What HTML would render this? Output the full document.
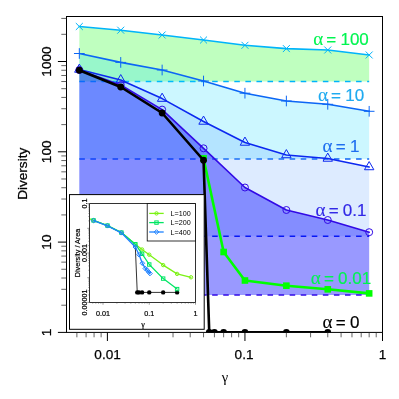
<!DOCTYPE html>
<html><head><meta charset="utf-8"><title>Diversity</title>
<style>html,body{margin:0;padding:0;background:#fff;}body{width:399px;height:399px;overflow:hidden;font-family:"Liberation Sans",sans-serif;}.ls{font-family:"Liberation Sans",sans-serif;}.lf{font-family:"Liberation Serif",serif;}</style></head>
<body>
<div id="fig" style="width:399px;height:399px;will-change:transform;transform:translateZ(0);">
<svg width="399" height="399" viewBox="0 0 399 399" style="display:block">
<rect width="399" height="399" fill="#fff"/>
<defs><clipPath id="cp"><rect x="66.5" y="16.5" width="316.0" height="315.9"/></clipPath></defs>
<g clip-path="url(#cp)">
<polygon points="79.32,26.50 120.73,30.20 162.14,35.00 203.54,40.00 244.95,45.30 286.36,48.60 327.76,50.00 369.17,55.00 369.17,81.50 79.32,81.50" fill="#00ff00" fill-opacity="0.25"/>
<line x1="79.32" y1="81.5" x2="369.17" y2="81.5" stroke="#00b4fa" stroke-width="1.5" stroke-dasharray="5.55 5.52"/>
<polygon points="79.32,53.50 120.73,62.40 162.14,70.00 203.54,81.00 244.95,93.20 286.36,101.00 327.76,104.30 369.17,111.30 369.17,159.00 79.32,159.00" fill="#00d7ff" fill-opacity="0.2"/>
<line x1="79.32" y1="159.0" x2="369.17" y2="159.0" stroke="#0c66f5" stroke-width="1.5" stroke-dasharray="5.55 5.52"/>
<polygon points="79.32,69.50 120.73,80.00 162.14,98.60 203.54,121.50 244.95,142.50 286.36,155.00 327.76,158.50 369.17,167.00 369.17,236.20 79.32,236.20" fill="#559bff" fill-opacity="0.2"/>
<line x1="79.32" y1="236.2" x2="369.17" y2="236.2" stroke="#0c28f0" stroke-width="1.5" stroke-dasharray="5.55 5.52"/>
<polygon points="79.32,70.00 120.73,85.00 162.14,109.60 203.54,148.30 244.95,187.50 286.36,210.00 327.76,220.00 369.17,232.20 369.17,294.90 79.32,294.90" fill="#0000ff" fill-opacity="0.4"/>
<line x1="79.32" y1="294.9" x2="369.17" y2="294.9" stroke="#320ae6" stroke-width="1.5" stroke-dasharray="5.55 5.52"/>
<polyline points="79.32,26.50 120.73,30.20 162.14,35.00 203.54,40.00 244.95,45.30 286.36,48.60 327.76,50.00 369.17,55.00" fill="none" stroke="#00b4fa" stroke-width="1.6" stroke-linejoin="round" stroke-linecap="round"/>
<path d="M76.12,23.30L82.52,29.70M76.12,29.70L82.52,23.30" stroke="#00b4fa" stroke-width="1.0" fill="none" stroke-linecap="round"/>
<path d="M117.53,27.00L123.93,33.40M117.53,33.40L123.93,27.00" stroke="#00b4fa" stroke-width="1.0" fill="none" stroke-linecap="round"/>
<path d="M158.94,31.80L165.34,38.20M158.94,38.20L165.34,31.80" stroke="#00b4fa" stroke-width="1.0" fill="none" stroke-linecap="round"/>
<path d="M200.34,36.80L206.74,43.20M200.34,43.20L206.74,36.80" stroke="#00b4fa" stroke-width="1.0" fill="none" stroke-linecap="round"/>
<path d="M241.75,42.10L248.15,48.50M241.75,48.50L248.15,42.10" stroke="#00b4fa" stroke-width="1.0" fill="none" stroke-linecap="round"/>
<path d="M283.16,45.40L289.56,51.80M283.16,51.80L289.56,45.40" stroke="#00b4fa" stroke-width="1.0" fill="none" stroke-linecap="round"/>
<path d="M324.56,46.80L330.96,53.20M324.56,53.20L330.96,46.80" stroke="#00b4fa" stroke-width="1.0" fill="none" stroke-linecap="round"/>
<path d="M365.97,51.80L372.37,58.20M365.97,58.20L372.37,51.80" stroke="#00b4fa" stroke-width="1.0" fill="none" stroke-linecap="round"/>
<polyline points="79.32,53.50 120.73,62.40 162.14,70.00 203.54,81.00 244.95,93.20 286.36,101.00 327.76,104.30 369.17,111.30" fill="none" stroke="#0c66f5" stroke-width="1.6" stroke-linejoin="round" stroke-linecap="round"/>
<path d="M74.37,53.50L84.27,53.50M79.32,48.55L79.32,58.45" stroke="#0c66f5" stroke-width="1.0" fill="none" stroke-linecap="round"/>
<path d="M115.78,62.40L125.68,62.40M120.73,57.45L120.73,67.35" stroke="#0c66f5" stroke-width="1.0" fill="none" stroke-linecap="round"/>
<path d="M157.19,70.00L167.09,70.00M162.14,65.05L162.14,74.95" stroke="#0c66f5" stroke-width="1.0" fill="none" stroke-linecap="round"/>
<path d="M198.59,81.00L208.49,81.00M203.54,76.05L203.54,85.95" stroke="#0c66f5" stroke-width="1.0" fill="none" stroke-linecap="round"/>
<path d="M240.00,93.20L249.90,93.20M244.95,88.25L244.95,98.15" stroke="#0c66f5" stroke-width="1.0" fill="none" stroke-linecap="round"/>
<path d="M281.41,101.00L291.31,101.00M286.36,96.05L286.36,105.95" stroke="#0c66f5" stroke-width="1.0" fill="none" stroke-linecap="round"/>
<path d="M322.81,104.30L332.71,104.30M327.76,99.35L327.76,109.25" stroke="#0c66f5" stroke-width="1.0" fill="none" stroke-linecap="round"/>
<path d="M364.22,111.30L374.12,111.30M369.17,106.35L369.17,116.25" stroke="#0c66f5" stroke-width="1.0" fill="none" stroke-linecap="round"/>
<polyline points="79.32,69.50 120.73,80.00 162.14,98.60 203.54,121.50 244.95,142.50 286.36,155.00 327.76,158.50 369.17,167.00" fill="none" stroke="#0c28f0" stroke-width="1.6" stroke-linejoin="round" stroke-linecap="round"/>
<path d="M79.32,64.06L84.04,72.22L74.61,72.22Z" stroke="#0c28f0" stroke-width="1.0" fill="none" stroke-linejoin="round"/>
<path d="M120.73,74.56L125.44,82.72L116.02,82.72Z" stroke="#0c28f0" stroke-width="1.0" fill="none" stroke-linejoin="round"/>
<path d="M162.14,93.16L166.85,101.32L157.42,101.32Z" stroke="#0c28f0" stroke-width="1.0" fill="none" stroke-linejoin="round"/>
<path d="M203.54,116.06L208.26,124.22L198.83,124.22Z" stroke="#0c28f0" stroke-width="1.0" fill="none" stroke-linejoin="round"/>
<path d="M244.95,137.06L249.66,145.22L240.24,145.22Z" stroke="#0c28f0" stroke-width="1.0" fill="none" stroke-linejoin="round"/>
<path d="M286.36,149.56L291.07,157.72L281.64,157.72Z" stroke="#0c28f0" stroke-width="1.0" fill="none" stroke-linejoin="round"/>
<path d="M327.76,153.06L332.48,161.22L323.05,161.22Z" stroke="#0c28f0" stroke-width="1.0" fill="none" stroke-linejoin="round"/>
<path d="M369.17,161.56L373.88,169.72L364.46,169.72Z" stroke="#0c28f0" stroke-width="1.0" fill="none" stroke-linejoin="round"/>
<polyline points="79.32,70.00 120.73,85.00 162.14,109.60 203.54,148.30 244.95,187.50 286.36,210.00 327.76,220.00 369.17,232.20" fill="none" stroke="#320ae6" stroke-width="1.6" stroke-linejoin="round" stroke-linecap="round"/>
<circle cx="79.32" cy="70.00" r="3.5" stroke="#320ae6" stroke-width="1.0" fill="none"/>
<circle cx="120.73" cy="85.00" r="3.5" stroke="#320ae6" stroke-width="1.0" fill="none"/>
<circle cx="162.14" cy="109.60" r="3.5" stroke="#320ae6" stroke-width="1.0" fill="none"/>
<circle cx="203.54" cy="148.30" r="3.5" stroke="#320ae6" stroke-width="1.0" fill="none"/>
<circle cx="244.95" cy="187.50" r="3.5" stroke="#320ae6" stroke-width="1.0" fill="none"/>
<circle cx="286.36" cy="210.00" r="3.5" stroke="#320ae6" stroke-width="1.0" fill="none"/>
<circle cx="327.76" cy="220.00" r="3.5" stroke="#320ae6" stroke-width="1.0" fill="none"/>
<circle cx="369.17" cy="232.20" r="3.5" stroke="#320ae6" stroke-width="1.0" fill="none"/>
<polyline points="203.54,158.40 223.64,252.00 244.95,280.50 286.36,285.70 327.76,289.30 369.17,293.40" fill="none" stroke="#00ff00" stroke-width="2.6" stroke-linejoin="round" stroke-linecap="round"/>
<rect x="200.24" y="155.10" width="6.6" height="6.6" fill="#00ff00"/>
<rect x="220.34" y="248.70" width="6.6" height="6.6" fill="#00ff00"/>
<rect x="241.65" y="277.20" width="6.6" height="6.6" fill="#00ff00"/>
<rect x="283.06" y="282.40" width="6.6" height="6.6" fill="#00ff00"/>
<rect x="324.46" y="286.00" width="6.6" height="6.6" fill="#00ff00"/>
<rect x="365.87" y="290.10" width="6.6" height="6.6" fill="#00ff00"/>
<polyline points="79.32,70.25 120.73,87.00 162.14,113.00 203.54,160.25 209.24,332.40 214.43,332.40 223.64,332.40 244.95,332.40 286.36,332.40 327.76,332.40" fill="none" stroke="#000" stroke-width="2.6" stroke-linejoin="round" stroke-linecap="round"/>
<circle cx="79.32" cy="70.25" r="3.4" fill="#000"/>
<circle cx="120.73" cy="87.00" r="3.4" fill="#000"/>
<circle cx="162.14" cy="113.00" r="3.4" fill="#000"/>
<circle cx="203.54" cy="160.25" r="3.4" fill="#000"/>
<circle cx="209.24" cy="332.40" r="3.4" fill="#000"/>
<circle cx="214.43" cy="332.40" r="3.4" fill="#000"/>
<circle cx="223.64" cy="332.40" r="3.4" fill="#000"/>
<circle cx="244.95" cy="332.40" r="3.4" fill="#000"/>
<circle cx="286.36" cy="332.40" r="3.4" fill="#000"/>
<circle cx="327.76" cy="332.40" r="3.4" fill="#000"/>
</g>
<g class="ls">
<text x="341" y="45" text-anchor="middle" font-size="17" fill="#00f550" stroke="#00f550" stroke-width="0.2"><tspan class="lf" font-size="19" stroke-width="0.1">α</tspan><tspan dx="3.2">=</tspan><tspan dx="4.2">100</tspan></text>
<text x="341" y="101.1" text-anchor="middle" font-size="17" fill="#1eaaf0" stroke="#1eaaf0" stroke-width="0.2"><tspan class="lf" font-size="19" stroke-width="0.1">α</tspan><tspan dx="3.2">=</tspan><tspan dx="4.2">10</tspan></text>
<text x="341" y="151.7" text-anchor="middle" font-size="17" fill="#1e6ef0" stroke="#1e6ef0" stroke-width="0.2"><tspan class="lf" font-size="19" stroke-width="0.1">α</tspan><tspan dx="3.2">=</tspan><tspan dx="4.2">1</tspan></text>
<text x="341" y="216" text-anchor="middle" font-size="17" fill="#3228e6" stroke="#3228e6" stroke-width="0.2"><tspan class="lf" font-size="19" stroke-width="0.1">α</tspan><tspan dx="3.2">=</tspan><tspan dx="4.2">0.1</tspan></text>
<text x="341" y="283.7" text-anchor="middle" font-size="17" fill="#00f550" stroke="#00f550" stroke-width="0.2"><tspan class="lf" font-size="19" stroke-width="0.1">α</tspan><tspan dx="3.2">=</tspan><tspan dx="4.2">0.01</tspan></text>
<text x="341" y="327.7" text-anchor="middle" font-size="17" fill="#000" stroke="#000" stroke-width="0.2"><tspan class="lf" font-size="19" stroke-width="0.1">α</tspan><tspan dx="3.2">=</tspan><tspan dx="4.2">0</tspan></text>
</g>
<rect x="66.5" y="16.5" width="316.0" height="315.9" fill="none" stroke="#000" stroke-width="1"/>
<path d="M107.40,332.4v8.6M244.95,332.4v8.6M382.50,332.4v8.6M66.5,332.40h-8.6M66.5,242.10h-8.6M66.5,151.80h-8.6M66.5,61.50h-8.6" stroke="#000" stroke-width="1" fill="none"/>
<path d="M76.88,332.4v4.9M86.09,332.4v4.9M94.07,332.4v4.9M101.11,332.4v4.9M148.81,332.4v4.9M173.03,332.4v4.9M190.21,332.4v4.9M203.54,332.4v4.9M214.43,332.4v4.9M223.64,332.4v4.9M231.62,332.4v4.9M238.66,332.4v4.9M286.36,332.4v4.9M310.58,332.4v4.9M327.76,332.4v4.9M341.09,332.4v4.9M351.98,332.4v4.9M361.19,332.4v4.9M369.17,332.4v4.9M376.21,332.4v4.9M66.5,305.22h-5.2M66.5,289.32h-5.2M66.5,278.03h-5.2M66.5,269.28h-5.2M66.5,262.13h-5.2M66.5,256.09h-5.2M66.5,250.85h-5.2M66.5,246.23h-5.2M66.5,214.92h-5.2M66.5,199.02h-5.2M66.5,187.73h-5.2M66.5,178.98h-5.2M66.5,171.83h-5.2M66.5,165.79h-5.2M66.5,160.55h-5.2M66.5,155.93h-5.2M66.5,124.62h-5.2M66.5,108.72h-5.2M66.5,97.43h-5.2M66.5,88.68h-5.2M66.5,81.53h-5.2M66.5,75.49h-5.2M66.5,70.25h-5.2M66.5,65.63h-5.2M66.5,34.32h-5.2M66.5,18.42h-5.2" stroke="#222" stroke-width="0.7" fill="none"/>
<g class="ls" font-size="13.6" fill="#000" stroke="#000" stroke-width="0.25">
<text x="107.60" y="359" text-anchor="middle">0.01</text>
<text x="244.05" y="359" text-anchor="middle">0.1</text>
<text x="382.50" y="359" text-anchor="middle">1</text>
<text transform="translate(51,332.40) rotate(-90)" text-anchor="middle">1</text>
<text transform="translate(51,242.10) rotate(-90)" text-anchor="middle">10</text>
<text transform="translate(51,151.80) rotate(-90)" text-anchor="middle">100</text>
<text transform="translate(51,61.50) rotate(-90)" text-anchor="middle">1000</text>
<text transform="translate(26.7,173.8) rotate(-90)" text-anchor="middle">Diversity</text>
<text x="225" y="381.5" text-anchor="middle" class="lf" font-size="14.5" stroke="none">γ</text>
</g>
<rect x="69.5" y="194.6" width="134.7" height="134.70000000000002" fill="#fff" stroke="#000" stroke-width="1"/>
<defs><clipPath id="ci"><rect x="89.6" y="203.6" width="105.9" height="98.79999999999998"/></clipPath></defs>
<g clip-path="url(#ci)">
<polyline points="135.33,247.00 137.24,292.40 138.99,292.40 142.09,292.40 149.25,292.40 163.17,292.40 177.10,292.40" fill="none" stroke="#000" stroke-width="0.8" stroke-linejoin="round" stroke-linecap="round"/>
<circle cx="137.24" cy="292.40" r="2.2" fill="#000"/>
<circle cx="138.99" cy="292.40" r="2.2" fill="#000"/>
<circle cx="142.09" cy="292.40" r="2.2" fill="#000"/>
<circle cx="149.25" cy="292.40" r="2.2" fill="#000"/>
<circle cx="163.17" cy="292.40" r="2.2" fill="#000"/>
<circle cx="177.10" cy="292.40" r="2.2" fill="#000"/>
<polyline points="84.00,216.60 93.56,220.40 107.48,225.60 121.40,232.60 135.33,244.20 142.09,249.50 149.25,254.70 163.17,265.10 177.10,273.90 191.02,277.30" fill="none" stroke="#7cf214" stroke-width="1.25" stroke-linejoin="round" stroke-linecap="round"/>
<circle cx="84.00" cy="216.60" r="1.7" stroke="#7cf214" stroke-width="1.0" fill="none"/>
<circle cx="93.56" cy="220.40" r="1.7" stroke="#7cf214" stroke-width="1.0" fill="none"/>
<circle cx="107.48" cy="225.60" r="1.7" stroke="#7cf214" stroke-width="1.0" fill="none"/>
<circle cx="121.40" cy="232.60" r="1.7" stroke="#7cf214" stroke-width="1.0" fill="none"/>
<circle cx="135.33" cy="244.20" r="1.7" stroke="#7cf214" stroke-width="1.0" fill="none"/>
<circle cx="142.09" cy="249.50" r="1.7" stroke="#7cf214" stroke-width="1.0" fill="none"/>
<circle cx="149.25" cy="254.70" r="1.7" stroke="#7cf214" stroke-width="1.0" fill="none"/>
<circle cx="163.17" cy="265.10" r="1.7" stroke="#7cf214" stroke-width="1.0" fill="none"/>
<circle cx="177.10" cy="273.90" r="1.7" stroke="#7cf214" stroke-width="1.0" fill="none"/>
<circle cx="191.02" cy="277.30" r="1.7" stroke="#7cf214" stroke-width="1.0" fill="none"/>
<polyline points="93.56,220.40 107.48,225.60 121.40,232.60 135.33,244.20 142.09,253.80 149.25,264.50 163.17,278.60 177.10,289.10" fill="none" stroke="#00e664" stroke-width="1.25" stroke-linejoin="round" stroke-linecap="round"/>
<rect x="91.86" y="218.70" width="3.4" height="3.4" fill="none" stroke="#00e664" stroke-width="1.0"/>
<rect x="105.78" y="223.90" width="3.4" height="3.4" fill="none" stroke="#00e664" stroke-width="1.0"/>
<rect x="119.70" y="230.90" width="3.4" height="3.4" fill="none" stroke="#00e664" stroke-width="1.0"/>
<rect x="133.63" y="242.50" width="3.4" height="3.4" fill="none" stroke="#00e664" stroke-width="1.0"/>
<rect x="140.39" y="252.10" width="3.4" height="3.4" fill="none" stroke="#00e664" stroke-width="1.0"/>
<rect x="147.55" y="262.80" width="3.4" height="3.4" fill="none" stroke="#00e664" stroke-width="1.0"/>
<rect x="161.47" y="276.90" width="3.4" height="3.4" fill="none" stroke="#00e664" stroke-width="1.0"/>
<rect x="175.40" y="287.40" width="3.4" height="3.4" fill="none" stroke="#00e664" stroke-width="1.0"/>
<polyline points="93.56,220.60 107.48,225.80 121.40,232.80 135.33,247.00 139.10,254.70 142.30,263.20 145.30,268.50 147.20,270.20 148.70,272.00 150.00,273.50" fill="none" stroke="#1e82ff" stroke-width="1.35" stroke-linejoin="round" stroke-linecap="round"/>
<path d="M93.56,218.30L95.86,220.60L93.56,222.90L91.26,220.60Z" stroke="#1e82ff" stroke-width="1.0" fill="none"/>
<path d="M107.48,223.50L109.78,225.80L107.48,228.10L105.18,225.80Z" stroke="#1e82ff" stroke-width="1.0" fill="none"/>
<path d="M121.40,230.50L123.70,232.80L121.40,235.10L119.10,232.80Z" stroke="#1e82ff" stroke-width="1.0" fill="none"/>
<path d="M135.33,244.70L137.63,247.00L135.33,249.30L133.03,247.00Z" stroke="#1e82ff" stroke-width="1.0" fill="none"/>
<path d="M139.10,252.40L141.40,254.70L139.10,257.00L136.80,254.70Z" stroke="#1e82ff" stroke-width="1.0" fill="none"/>
<path d="M142.30,260.90L144.60,263.20L142.30,265.50L140.00,263.20Z" stroke="#1e82ff" stroke-width="1.0" fill="none"/>
<path d="M145.30,266.20L147.60,268.50L145.30,270.80L143.00,268.50Z" stroke="#1e82ff" stroke-width="1.0" fill="none"/>
<path d="M147.20,267.90L149.50,270.20L147.20,272.50L144.90,270.20Z" stroke="#1e82ff" stroke-width="1.0" fill="none"/>
<path d="M148.70,269.70L151.00,272.00L148.70,274.30L146.40,272.00Z" stroke="#1e82ff" stroke-width="1.0" fill="none"/>
<path d="M150.00,271.20L152.30,273.50L150.00,275.80L147.70,273.50Z" stroke="#1e82ff" stroke-width="1.0" fill="none"/>
</g>
<rect x="89.6" y="203.6" width="105.9" height="98.79999999999998" fill="none" stroke="#000" stroke-width="0.8"/>
<path d="M92.74,302.4v1.2M95.84,302.4v1.2M98.52,302.4v1.2M100.88,302.4v1.2M103.00,302.4v2.3M116.92,302.4v1.2M125.07,302.4v1.2M130.85,302.4v1.2M135.33,302.4v1.2M138.99,302.4v1.2M142.09,302.4v1.2M144.77,302.4v1.2M147.13,302.4v1.2M149.25,302.4v2.3M163.17,302.4v1.2M171.32,302.4v1.2M177.10,302.4v1.2M181.58,302.4v1.2M185.24,302.4v1.2M188.34,302.4v1.2M191.02,302.4v1.2M193.38,302.4v1.2M195.50,302.4v2.3M89.6,302.40h-2.3M89.6,294.96h-1.2M89.6,290.62h-1.2M89.6,287.53h-1.2M89.6,285.14h-1.2M89.6,283.18h-1.2M89.6,281.53h-1.2M89.6,280.09h-1.2M89.6,278.83h-1.2M89.6,277.70h-2.3M89.6,270.26h-1.2M89.6,265.92h-1.2M89.6,262.83h-1.2M89.6,260.44h-1.2M89.6,258.48h-1.2M89.6,256.83h-1.2M89.6,255.39h-1.2M89.6,254.13h-1.2M89.6,253.00h-2.3M89.6,245.56h-1.2M89.6,241.22h-1.2M89.6,238.13h-1.2M89.6,235.74h-1.2M89.6,233.78h-1.2M89.6,232.13h-1.2M89.6,230.69h-1.2M89.6,229.43h-1.2M89.6,228.30h-2.3M89.6,220.86h-1.2M89.6,216.52h-1.2M89.6,213.43h-1.2M89.6,211.04h-1.2M89.6,209.08h-1.2M89.6,207.43h-1.2M89.6,205.99h-1.2M89.6,204.73h-1.2M89.6,203.60h-2.3" stroke="#333" stroke-width="0.5" fill="none"/>
<g class="ls" font-size="7.2" fill="#000" stroke="#000" stroke-width="0.2">
<text x="103.00" y="315.7" text-anchor="middle">0.01</text>
<text x="149.25" y="315.7" text-anchor="middle">0.1</text>
<text x="195.50" y="315.7" text-anchor="middle">1</text>
<text transform="translate(87,203.60) rotate(-90)" text-anchor="middle">0.1</text>
<text transform="translate(87,253.00) rotate(-90)" text-anchor="middle">0.001</text>
<text transform="translate(87,302.40) rotate(-90)" text-anchor="middle">0.00001</text>
<text transform="translate(80,253) rotate(-90)" text-anchor="middle">Diversity / Area</text>
<text x="143" y="327" text-anchor="middle" class="lf" font-size="8">γ</text>
<rect x="147.2" y="203.6" width="48.30000000000001" height="37.400000000000006" fill="#fff" stroke="#000" stroke-width="0.8"/>
<line x1="149.2" x2="163.7" y1="213.4" y2="213.4" stroke="#7cf214" stroke-width="1.3"/>
<circle cx="156.50" cy="213.40" r="1.7" stroke="#7cf214" stroke-width="1.0" fill="none"/>
<text x="170.6" y="216.0" stroke="none">L=100</text>
<line x1="149.2" x2="163.7" y1="222.6" y2="222.6" stroke="#00e664" stroke-width="1.3"/>
<rect x="154.8" y="220.9" width="3.4" height="3.4" fill="none" stroke="#00e664" stroke-width="1.0"/>
<text x="170.6" y="225.2" stroke="none">L=200</text>
<line x1="149.2" x2="163.7" y1="232.0" y2="232.0" stroke="#1e82ff" stroke-width="1.3"/>
<path d="M156.50,229.70L158.80,232.00L156.50,234.30L154.20,232.00Z" stroke="#1e82ff" stroke-width="1.0" fill="none"/>
<text x="170.6" y="234.6" stroke="none">L=400</text>
</g>
</svg>
</div>
</body></html>
